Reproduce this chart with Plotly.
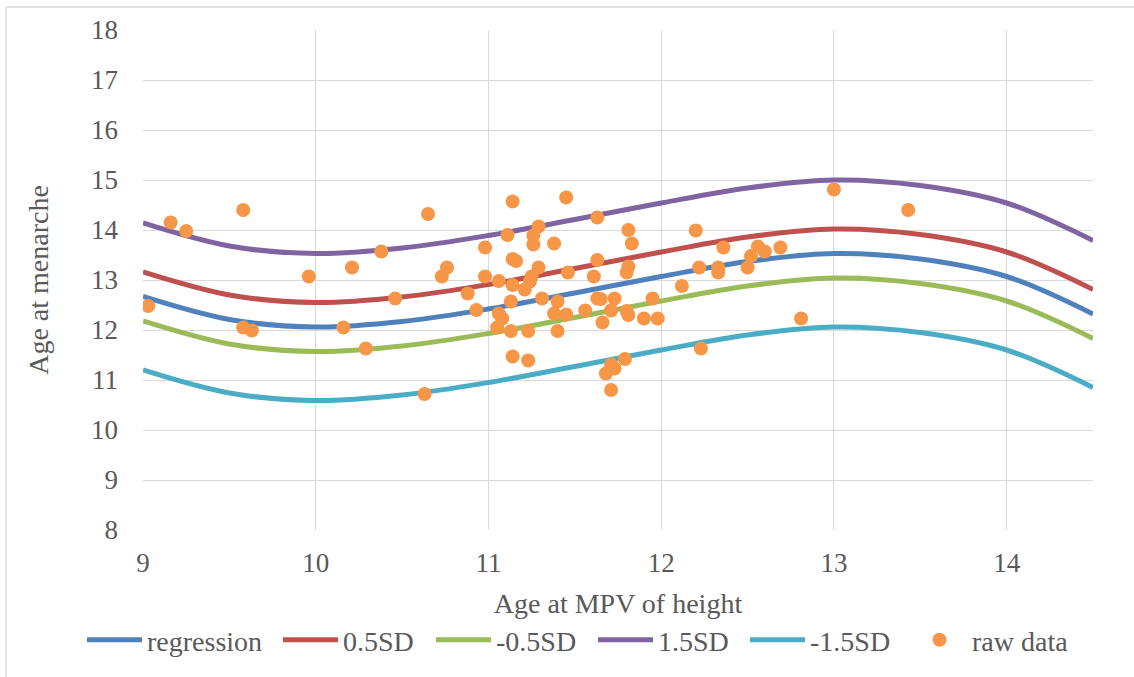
import plotly.graph_objects as go

# Age at MPV of height (x grid for the fitted curves)
curve_x = [9.0, 9.5, 10.0, 10.5, 11.0, 11.5, 12.0, 12.5, 13.0, 13.5, 14.0, 14.5]

# Fitted age at menarche and the +/- SD bands
regression = [12.67, 12.21, 12.06, 12.17, 12.42, 12.74, 13.07, 13.37, 13.53, 13.42, 13.07, 12.32]
plus_05sd = [13.16, 12.70, 12.55, 12.66, 12.91, 13.23, 13.56, 13.86, 14.02, 13.91, 13.56, 12.81]
minus_05sd = [12.18, 11.72, 11.57, 11.68, 11.93, 12.25, 12.58, 12.88, 13.04, 12.93, 12.58, 11.83]
plus_15sd = [14.14, 13.68, 13.53, 13.64, 13.89, 14.21, 14.54, 14.84, 15.00, 14.89, 14.54, 13.79]
minus_15sd = [11.20, 10.74, 10.59, 10.70, 10.95, 11.27, 11.60, 11.90, 12.06, 11.95, 11.60, 10.85]

# Raw observations: age at MPV of height, age at menarche
raw_x = [9.03, 9.16, 9.25, 9.58, 9.58, 9.63, 9.96, 10.16, 10.21, 10.29,
         10.38, 10.46, 10.65, 10.63, 10.73, 10.76, 10.88, 10.93, 10.98, 10.98,
         11.06, 11.06, 11.08, 11.05, 11.13, 11.14, 11.11, 11.14, 11.16, 11.14,
         11.13, 11.21, 11.24, 11.25, 11.29, 11.26, 11.26, 11.29, 11.23, 11.14,
         11.23, 11.31, 11.40, 11.38, 11.45, 11.40, 11.38, 11.45, 11.46, 11.56,
         11.63, 11.63, 11.61, 11.63, 11.65, 11.66, 11.73, 11.71, 11.81, 11.83,
         11.81, 11.80, 11.80, 11.81, 11.90, 11.98, 11.95, 11.79, 11.71, 11.73,
         11.68, 11.71, 12.12, 12.20, 12.22, 12.23, 12.33, 12.33, 12.36, 12.50,
         12.52, 12.56, 12.60, 12.69, 12.81, 13.00, 13.43]
raw_y = [12.48, 14.15, 13.98, 14.40, 12.05, 11.99, 13.07, 12.05, 13.25, 11.63,
         13.57, 12.63, 14.32, 10.72, 13.07, 13.25, 12.73, 12.40, 13.65, 13.07,
         12.98, 12.33, 12.23, 12.05, 11.98, 14.57, 13.90, 13.42, 13.38, 12.90,
         12.57, 12.81, 12.97, 13.07, 13.25, 13.71, 13.89, 14.07, 11.98, 11.47,
         11.39, 12.63, 12.57, 12.33, 12.31, 11.98, 13.73, 14.65, 13.15, 12.39,
         14.25, 13.40, 13.07, 12.63, 12.62, 12.15, 12.63, 12.39, 14.00, 13.73,
         13.27, 13.15, 12.38, 12.30, 12.23, 12.23, 12.63, 11.42, 11.31, 11.23,
         11.13, 10.80, 12.88, 13.99, 13.25, 11.63, 13.25, 13.15, 13.65, 13.25,
         13.48, 13.67, 13.57, 13.65, 12.23, 14.81, 14.40]

x_ticks = [9, 10, 11, 12, 13, 14]
y_ticks = [8, 9, 10, 11, 12, 13, 14, 15, 16, 17, 18]

FONT = "Liberation Serif, Times New Roman, serif"
TEXT = "#595959"
GRID = "#D9D9D9"

curves = [
    ("regression", regression, "#4F81BD", "legend"),
    ("0.5SD", plus_05sd, "#C0504D", "legend2"),
    ("-0.5SD", minus_05sd, "#9BBB59", "legend3"),
    ("1.5SD", plus_15sd, "#8064A2", "legend4"),
    ("-1.5SD", minus_15sd, "#4BACC6", "legend5"),
]

fig = go.Figure()
for name, ys, color, leg in curves:
    fig.add_trace(go.Scatter(
        x=curve_x, y=ys, name=name, mode="lines",
        line=dict(color=color, width=5, shape="spline", smoothing=1.0),
        legend=leg, hoverinfo="skip",
    ))

fig.add_trace(go.Scatter(
    x=raw_x, y=raw_y, name="raw data", mode="markers",
    marker=dict(color="#F79646", size=14, line=dict(width=0)),
    legend="legend6",
))

# plot area spans px 143..1093 horizontally, 30..530 vertically
L, R, T, B = 143, 41, 30, 147
W, H = 1134, 677
pw = W - L - R
ph = H - T - B


def px_to_paper_x(px):
    return (px - L) / pw


legend_common = dict(
    orientation="h", yanchor="middle", xanchor="left",
    y=(T + ph - 640) / ph, font=dict(family=FONT, size=28, color=TEXT),
    bgcolor="rgba(0,0,0,0)", borderwidth=0, itemwidth=55,
)
legend_px = [82, 278, 431, 593, 745, 907]
layout_legends = {}
for i, px in enumerate(legend_px):
    key = "legend" if i == 0 else f"legend{i + 1}"
    layout_legends[key] = dict(legend_common, x=px_to_paper_x(px))

fig.update_layout(
    width=W, height=H,
    margin=dict(l=L, r=R, t=T, b=B),
    paper_bgcolor="white", plot_bgcolor="white",
    font=dict(family=FONT, color=TEXT),
    showlegend=True,
    xaxis=dict(
        range=[9, 14.5], tickvals=x_ticks, ticktext=[str(v) for v in x_ticks],
        showgrid=True, gridcolor=GRID, gridwidth=1.3, zeroline=False,
        showline=False, ticks="", ticklabelstandoff=14,
        tickfont=dict(family=FONT, size=27, color=TEXT),
        title=dict(text="Age at MPV of height", standoff=16,
                   font=dict(family=FONT, size=28, color=TEXT)),
    ),
    yaxis=dict(
        range=[8, 18], tickvals=y_ticks, ticktext=[str(v) for v in y_ticks],
        showgrid=True, gridcolor=GRID, gridwidth=1.3, zeroline=False,
        showline=False, ticks="", ticklabelstandoff=24,
        tickfont=dict(family=FONT, size=27, color=TEXT),
        title=dict(text="Age at menarche", standoff=34,
                   font=dict(family=FONT, size=28, color=TEXT)),
    ),
    **layout_legends,
)

# chart-area border
fig.add_shape(
    type="rect", xref="paper", yref="paper",
    x0=px_to_paper_x(6), x1=px_to_paper_x(1160),
    y0=(T + ph - 700) / ph, y1=(T + ph - 7) / ph,
    line=dict(color=GRID, width=1.3), fillcolor="rgba(0,0,0,0)", layer="below",
)

fig.write_html("out.html")
